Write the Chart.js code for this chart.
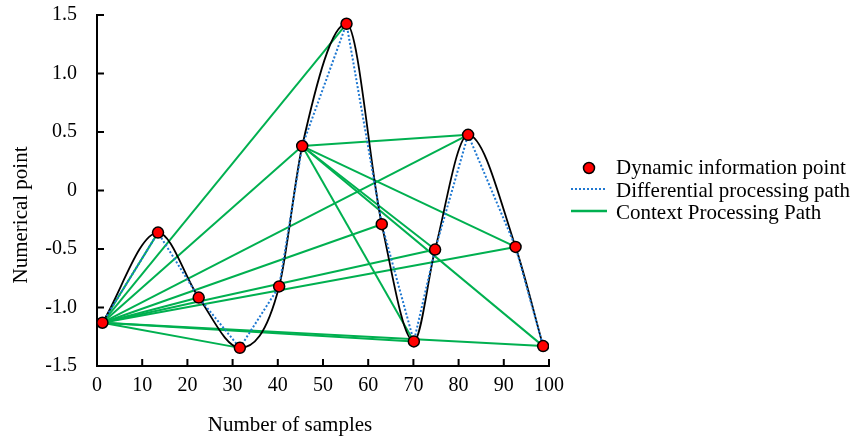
<!DOCTYPE html>
<html>
<head>
<meta charset="utf-8">
<script src="https://cdn.jsdelivr.net/npm/chart.js@4.4.0/dist/chart.umd.min.js"></script>
<style>
  html, body { margin: 0; padding: 0; background: #fff; }
  #wrap { width: 867px; height: 441px; }
</style>
</head>
<body>
<div id="wrap"><canvas id="chart"></canvas></div>
<script>
// Dynamic information points
const sampleX = [1.2, 13.5, 22.5, 31.6, 40.3, 45.4, 55.2, 63.0, 70.1, 74.8, 82.1, 92.6, 98.7];
const sampleY = [-1.13, -0.36, -0.915, -1.345, -0.82, 0.38, 1.425, -0.288, -1.29, -0.505, 0.476, -0.482, -1.33];

// Context processing paths, as [from, to] point indices
const contextPaths = [
  [0, 1], [0, 2], [0, 3], [0, 5], [0, 6], [0, 7], [0, 8],
  [0, 9], [0, 10], [0, 11], [0, 12],
  [5, 8], [5, 9], [5, 10], [5, 11], [5, 12]
];

const xTicks = [0, 10, 20, 30, 40, 50, 60, 70, 80, 90, 100];
const yTicks = [-1.5, -1.0, -0.5, 0, 0.5, 1.0, 1.5];

const legendLabels = ['Dynamic information point', 'Differential processing path', 'Context Processing Path'];

const RED = '#ff0000';
const BLUE = '#1f78d1';
const GREEN = '#00b050';
const FONT = "'Liberation Serif', 'Times New Roman', serif";

Chart.defaults.font.family = FONT;
Chart.defaults.color = '#000';

const points = sampleX.map((x, i) => ({ x, y: sampleY[i] }));

const contextSets = contextPaths.map(([a, b]) => ({
  data: [points[a], points[b]],
  showLine: true,
  borderColor: GREEN,
  borderWidth: 2,
  pointRadius: 0,
  order: 3
}));

// Inward tick marks, axis titles and the legend
const decorations = {
  id: 'decorations',
  afterDraw(chart) {
    const { ctx, chartArea, scales: { x, y } } = chart;
    ctx.save();
    ctx.strokeStyle = '#000';
    ctx.lineWidth = 2;
    ctx.beginPath();
    xTicks.forEach(v => {
      const px = x.getPixelForValue(v);
      ctx.moveTo(px, chartArea.bottom);
      ctx.lineTo(px, chartArea.bottom - 7);
    });
    yTicks.forEach(v => {
      const py = y.getPixelForValue(v);
      ctx.moveTo(chartArea.left, py);
      ctx.lineTo(chartArea.left + 7, py);
    });
    ctx.stroke();

    // axis titles
    ctx.fillStyle = '#000';
    ctx.font = '21px ' + FONT;
    ctx.textAlign = 'center';
    ctx.textBaseline = 'middle';
    ctx.fillText('Number of samples', 290, 425);
    ctx.save();
    ctx.translate(21, 215);
    ctx.rotate(-Math.PI / 2);
    ctx.fillText('Numerical point', 0, 0);
    ctx.restore();

    // legend
    const lx = 571, tx = 616;
    const rows = [168, 189, 211];
    ctx.beginPath();
    ctx.arc(589, rows[0], 5.5, 0, Math.PI * 2);
    ctx.fillStyle = RED;
    ctx.fill();
    ctx.lineWidth = 1.5;
    ctx.strokeStyle = '#000';
    ctx.stroke();

    ctx.beginPath();
    ctx.setLineDash([2, 2]);
    ctx.strokeStyle = BLUE;
    ctx.lineWidth = 2;
    ctx.moveTo(lx, rows[1]);
    ctx.lineTo(607, rows[1]);
    ctx.stroke();
    ctx.setLineDash([]);

    ctx.beginPath();
    ctx.strokeStyle = GREEN;
    ctx.lineWidth = 2.5;
    ctx.moveTo(lx, rows[2]);
    ctx.lineTo(607, rows[2]);
    ctx.stroke();

    ctx.fillStyle = '#000';
    ctx.font = '21px ' + FONT;
    ctx.textAlign = 'left';
    ctx.textBaseline = 'alphabetic';
    legendLabels.forEach((t, i) => ctx.fillText(t, tx, [174, 197, 219][i]));
    ctx.restore();
  }
};

new Chart(document.getElementById('chart'), {
  type: 'scatter',
  data: {
    datasets: [
      {
        label: legendLabels[0],
        data: points,
        pointRadius: 5.5,
        pointBackgroundColor: RED,
        pointBorderColor: '#000',
        pointBorderWidth: 1.5,
        showLine: false,
        order: 0
      },
      {
        label: legendLabels[1],
        data: points,
        showLine: true,
        borderColor: BLUE,
        borderWidth: 2,
        borderDash: [2, 2],
        pointRadius: 0,
        order: 1
      },
      {
        label: 'curve',
        data: points,
        showLine: true,
        borderColor: '#000',
        borderWidth: 1.8,
        cubicInterpolationMode: 'monotone',
        capBezierPoints: false,
        pointRadius: 0,
        order: 2
      },
      ...contextSets
    ]
  },
  options: {
    responsive: true,
    maintainAspectRatio: false,
    animation: false,
    layout: { padding: { top: 15, right: 318, left: 0, bottom: 0 } },
    plugins: {
      legend: { display: false },
      tooltip: { enabled: false }
    },
    scales: {
      x: {
        type: 'linear',
        min: 0,
        max: 100,
        afterFit: s => { s.height = 75; s.paddingLeft = 0; s.paddingRight = 0; },
        afterBuildTicks: s => { s.ticks = xTicks.map(v => ({ value: v })); },
        grid: { display: false, drawTicks: false },
        border: { display: true, color: '#000', width: 2 },
        ticks: { padding: 8, font: { size: 20 }, color: '#000', maxRotation: 0 }
      },
      y: {
        min: -1.5,
        max: 1.5,
        afterFit: s => { s.width = 97; s.paddingTop = 0; s.paddingBottom = 0; },
        afterBuildTicks: s => { s.ticks = yTicks.map(v => ({ value: v })); },
        grid: { display: false, drawTicks: false },
        border: { display: true, color: '#000', width: 2 },
        ticks: {
          padding: 20,
          font: { size: 20 },
          color: '#000',
          callback: v => (v === 0 ? '0' : v.toFixed(1))
        }
      }
    }
  },
  plugins: [decorations]
});
</script>
</body>
</html>
